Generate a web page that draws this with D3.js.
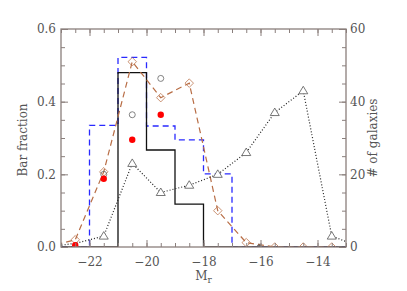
<!DOCTYPE html>
<html>
<head>
<meta charset="utf-8">
<script src="https://d3js.org/d3.v7.min.js"></script>
<style>
  body { margin: 0; background: #fff; }
  text { font-family: "DejaVu Serif", serif; fill: #555; }
</style>
</head>
<body>
<svg width="407" height="291" id="mainsvg"></svg>
<script>
// histogram edges (Mr) and bar fractions
const binEdges = [-23, -22, -21, -20, -19, -18, -17, -16, -15, -14, -13];
const blackHist = [0, 0, 0.48, 0.267, 0.118, 0, 0, 0, 0, 0];
const blueHist = [0, 0.335, 0.522, 0.333, 0.295, 0.201, 0, 0, 0, 0];

// bin centres for point series
const diamondX = [-23.5, -22.5, -21.5, -20.5, -19.5, -18.5, -17.5, -16.5, -15.5, -14.5, -13.5];
const diamondY = [0.0, 0.02, 0.207, 0.51, 0.411, 0.451, 0.1, 0.012, 0.0, 0.0, 0.0];

const openX = [-21.5, -20.5, -19.5];
const openY = [0.2, 0.364, 0.464];

const redX = [-22.5, -21.5, -20.5, -19.5];
const redY = [0.005, 0.188, 0.295, 0.364];

const triX = [-23.5, -22.5, -21.5, -20.5, -19.5, -18.5, -17.5, -16.5, -15.5, -14.5, -13.5, -12.5];
const triN = [0, 1, 3, 23, 15, 17, 20, 26, 37, 43, 3, 0];

const svg = d3.select('#mainsvg');
const margin = { top: 29, right: 61, bottom: 44, left: 61 };
const W = 407 - margin.left - margin.right;
const H = 291 - margin.top - margin.bottom;
const axisColor = '#8a7f7c';

const x = d3.scaleLinear().domain([-23, -13]).range([0, W]);
const yF = d3.scaleLinear().domain([0, 0.6]).range([H, 0]);
const yN = d3.scaleLinear().domain([0, 60]).range([H, 0]);

const g = svg.append('g').attr('transform', `translate(${margin.left},${margin.top})`);

g.append('clipPath').attr('id', 'clip')
  .append('rect').attr('width', W).attr('height', H);
const plot = g.append('g').attr('clip-path', 'url(#clip)');

// step outline for a histogram
function stepPath(vals) {
  const pts = [[binEdges[0], 0]];
  vals.forEach((v, i) => {
    pts.push([binEdges[i], v]);
    pts.push([binEdges[i + 1], v]);
  });
  pts.push([binEdges[binEdges.length - 1], 0]);
  return d3.line().x(d => x(d[0])).y(d => yF(d[1]))(pts);
}

plot.append('path').attr('d', stepPath(blueHist))
  .attr('fill', 'none').attr('stroke', '#2a2aff').attr('stroke-width', 1.3)
  .attr('stroke-dasharray', '6,4');

plot.append('path').attr('d', stepPath(blackHist))
  .attr('fill', 'none').attr('stroke', '#111').attr('stroke-width', 1.3);

// brown dashed line + diamonds
const brown = '#b86d45';
const diamonds = diamondX.map((v, i) => [v, diamondY[i]]);
plot.append('path')
  .attr('d', d3.line().x(d => x(d[0])).y(d => yF(d[1]))(diamonds))
  .attr('fill', 'none').attr('stroke', brown).attr('stroke-width', 1.2)
  .attr('stroke-dasharray', '6,4');
plot.selectAll('.dia').data(diamonds).enter().append('path')
  .attr('transform', d => `translate(${x(d[0])},${yF(d[1])}) rotate(45)`)
  .attr('d', 'M-3,-3H3V3H-3Z')
  .attr('fill', 'none').attr('stroke', brown).attr('stroke-width', 0.7);

// dotted line + triangles (right axis)
const tris = triX.map((v, i) => [v, triN[i]]);
plot.append('path')
  .attr('d', d3.line().x(d => x(d[0])).y(d => yN(d[1]))(tris))
  .attr('fill', 'none').attr('stroke', '#222').attr('stroke-width', 1.2)
  .attr('stroke-dasharray', '1,2');
plot.selectAll('.tri').data(tris.slice(2, 11)).enter().append('path')
  .attr('transform', d => `translate(${x(d[0])},${yN(d[1])})`)
  .attr('d', 'M0,-4.5L4.5,3L-4.5,3Z')
  .attr('fill', 'white').attr('stroke', '#555').attr('stroke-width', 0.8);

// open circles
plot.selectAll('.oc').data(openX).enter().append('circle')
  .attr('cx', d => x(d)).attr('cy', (d, i) => yF(openY[i])).attr('r', 3)
  .attr('fill', 'none').attr('stroke', '#666').attr('stroke-width', 0.8);

// red filled circles
plot.selectAll('.rc').data(redX).enter().append('circle')
  .attr('cx', d => x(d)).attr('cy', (d, i) => yF(redY[i])).attr('r', 3.2)
  .attr('fill', '#ff0000');

// small plus near -16
plot.append('path')
  .attr('transform', `translate(${x(-16.05)},${yF(0.004)})`)
  .attr('d', 'M-2,0H2M0,-2V2').attr('stroke', '#555').attr('stroke-width', 0.8);

// axes
function styleAxis(sel) {
  sel.select('.domain').remove();
  sel.selectAll('line').attr('stroke', axisColor);
  sel.selectAll('text').attr('fill', '#555').style('font-size', '12px')
    .style('font-family', '"DejaVu Serif", serif');
}
const fmtX = d => (d < 0 ? '\u2212' + Math.abs(d) : d);

g.append('g').attr('transform', `translate(0,${H})`)
  .call(d3.axisBottom(x).tickValues(d3.range(-23, -12.9, 0.5)).tickSize(-4).tickFormat(''))
  .call(styleAxis);
g.append('g').attr('transform', `translate(0,${H})`)
  .call(d3.axisBottom(x).tickValues([-22, -20, -18, -16, -14]).tickSize(-7).tickPadding(10).tickFormat(fmtX))
  .call(styleAxis);
g.append('g')
  .call(d3.axisTop(x).tickValues(d3.range(-23, -12.9, 0.5)).tickSize(-4).tickFormat(''))
  .call(styleAxis);
g.append('g')
  .call(d3.axisTop(x).tickValues([-22, -20, -18, -16, -14]).tickSize(-7).tickFormat(''))
  .call(styleAxis);

g.append('g')
  .call(d3.axisLeft(yF).tickValues(d3.range(0, 0.61, 0.05)).tickSize(-4).tickFormat(''))
  .call(styleAxis);
g.append('g')
  .call(d3.axisLeft(yF).tickValues([0, 0.2, 0.4, 0.6]).tickSize(-7).tickPadding(5).tickFormat(d3.format('.1f')))
  .call(styleAxis);
g.append('g').attr('transform', `translate(${W},0)`)
  .call(d3.axisRight(yN).tickValues(d3.range(0, 61, 5)).tickSize(-4).tickFormat(''))
  .call(styleAxis);
g.append('g').attr('transform', `translate(${W},0)`)
  .call(d3.axisRight(yN).tickValues([0, 20, 40, 60]).tickSize(-7).tickPadding(4).tickFormat(d3.format('d')))
  .call(styleAxis);

// frame
g.append('rect').attr('width', W).attr('height', H)
  .attr('fill', 'none').attr('stroke', axisColor).attr('stroke-width', 1.3);

// labels
svg.append('text')
  .attr('transform', `translate(27,${margin.top + H / 2 + 2}) rotate(-90)`)
  .attr('text-anchor', 'middle').style('font-size', '12px').text('Bar fraction');
svg.append('text')
  .attr('transform', `translate(377,${margin.top + H / 2}) rotate(-90)`)
  .attr('text-anchor', 'middle').style('font-size', '12px').text('# of galaxies');
const xl = svg.append('text')
  .attr('x', margin.left + x(-18)).attr('y', 280)
  .attr('text-anchor', 'middle').style('font-size', '12px');
xl.append('tspan').text('M');
xl.append('tspan').attr('dy', 3).style('font-size', '9px').text('r');
</script>
</body>
</html>
